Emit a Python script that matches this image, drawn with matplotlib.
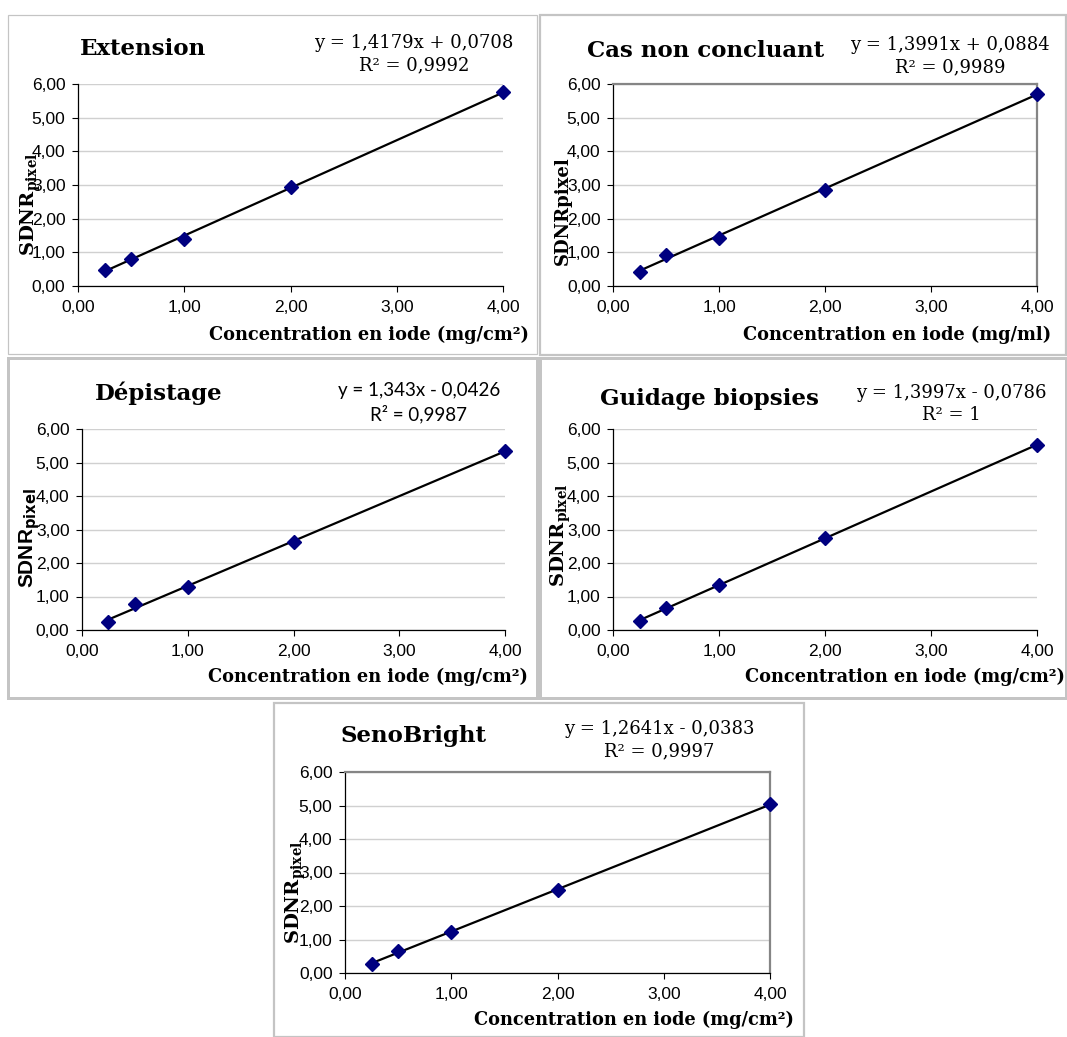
import numpy as np
import matplotlib
matplotlib.use("Agg")
from matplotlib import pyplot as plt
from matplotlib.patches import Rectangle

W, H = 1067, 1037

# concentrations (mg/cm2) and measured SDNR_pixel for each protocol
conc = [0.25, 0.5, 1.0, 2.0, 4.0]
sdnr_extension = [0.49, 0.80, 1.39, 2.95, 5.75]
sdnr_cas_non_concluant = [0.41, 0.92, 1.44, 2.86, 5.71]
sdnr_depistage = [0.23, 0.77, 1.29, 2.64, 5.34]
sdnr_guidage = [0.28, 0.66, 1.33, 2.74, 5.53]
sdnr_senobright = [0.28, 0.66, 1.21, 2.47, 5.04]

titles = ["Extension", "Cas non concluant", "Dépistage", "Guidage biopsies", "SenoBright"]
equations = ["y = 1,4179x + 0,0708\nR² = 0,9992",
             "y = 1,3991x + 0,0884\nR² = 0,9989",
             "y = 1,343x - 0,0426\nR² = 0,9987",
             "y = 1,3997x - 0,0786\nR² = 1",
             "y = 1,2641x - 0,0383\nR² = 0,9997"]
xlabels = ["Concentration en iode (mg/cm²)", "Concentration en iode (mg/ml)",
           "Concentration en iode (mg/cm²)", "Concentration en iode (mg/cm²)",
           "Concentration en iode (mg/cm²)"]
yticks = [0, 1, 2, 3, 4, 5, 6]
xticks = [0, 1, 2, 3, 4]

series = [sdnr_extension, sdnr_cas_non_concluant, sdnr_depistage, sdnr_guidage, sdnr_senobright]

# layout in pixels: axes (l, r, t, b), frame (l, t, r, b, lw), centres of title, equation, xlabel, ylabel
panels = [
    dict(ax=(78, 503, 84, 286), frame=(8, 15, 537, 354, 1.2), title=(143, 49), eq=(414, 54),
         xl=(369, 335), yl=(31, 204), box=False, sans=False, sub=True),
    dict(ax=(613, 1037, 84, 286), frame=(540, 15, 1066, 355, 2.2), title=(706, 51), eq=(950, 56),
         xl=(897, 335), yl=(563, 211), box=True, sans=False, sub=False),
    dict(ax=(82, 505, 429, 630), frame=(8, 358, 537, 698, 3), title=(159, 393), eq=(419, 403),
         xl=(368, 677), yl=(30, 538), box=False, sans=True, sub=True),
    dict(ax=(613, 1037, 429, 630), frame=(540, 358, 1066, 698, 3), title=(710, 399), eq=(951, 404),
         xl=(905, 677), yl=(561, 535), box=False, sans=False, sub=True),
    dict(ax=(345, 770, 772, 973), frame=(274, 703, 804, 1037, 2.2), title=(414, 736), eq=(659, 740),
         xl=(634, 1020), yl=(296, 892), box=True, sans=False, sub=True),
]

def fx(x):
    return x / W

def fy(y):
    return 1 - y / H

fig = plt.figure(figsize=(W / 100, H / 100), dpi=100)
fig.patch.set_facecolor("white")

serif = "DejaVu Serif"
for i, p in enumerate(panels):
    l, r, t, b = p["ax"]
    fl, ft, fr, fb, flw = p["frame"]
    fig.add_artist(Rectangle((fx(fl), fy(fb)), fx(fr - fl), (fb - ft) / H, transform=fig.transFigure,
                             fill=False, ec="#c4c4c4", lw=flw * 0.72))

    ax = fig.add_axes([fx(l), fy(b), fx(r - l), (b - t) / H])
    y = series[i]
    # linear trend line
    a, c = np.polyfit(conc, y, 1)
    xf = np.array([conc[0], conc[-1]])
    ax.plot(xf, a * xf + c, color="black", lw=1.6, zorder=3)
    ax.plot(conc, y, ls="none", marker="D", ms=7, color="#000080", mec="#000080", zorder=4, clip_on=False)

    ax.set_xlim(0, 4)
    ax.set_ylim(0, 6)
    ax.set_xticks(xticks)
    ax.set_yticks(yticks)
    ax.set_xticklabels([("%.2f" % v).replace(".", ",") for v in xticks])
    ax.set_yticklabels([("%.2f" % v).replace(".", ",") for v in yticks])
    for lab in ax.get_xticklabels() + ax.get_yticklabels():
        lab.set_family("Liberation Sans")
        lab.set_fontsize(12.5)
    ax.tick_params(axis="both", direction="out", length=4, width=0.8, color="black")
    ax.tick_params(axis="y", pad=5)
    ax.tick_params(axis="x", pad=6)
    ax.yaxis.grid(True, color="#d0d0d0", lw=1)
    ax.set_axisbelow(True)
    for s in ["left", "bottom"]:
        ax.spines[s].set_color("black")
        ax.spines[s].set_linewidth(0.9)
    if p["box"]:
        for s in ["top", "right"]:
            ax.spines[s].set_color("#858585")
            ax.spines[s].set_linewidth(1.6)
    else:
        ax.spines["top"].set_visible(False)
        ax.spines["right"].set_visible(False)

    fig.text(fx(p["title"][0]), fy(p["title"][1]), titles[i], family=serif, weight="bold",
             fontsize=16.5, ha="center", va="center")
    if p["sans"]:
        fig.text(fx(p["eq"][0]), fy(p["eq"][1]), equations[i], family="Lato", fontsize=13.5,
                 ha="center", va="center", linespacing=1.35, multialignment="center")
    else:
        fig.text(fx(p["eq"][0]), fy(p["eq"][1]), equations[i], family=serif, fontsize=13,
                 ha="center", va="center", linespacing=1.35, multialignment="center")
    fig.text(fx(p["xl"][0]), fy(p["xl"][1]), xlabels[i], family=serif, weight="bold",
             fontsize=12.8, ha="center", va="center")
    if p["sans"]:
        fig.text(fx(p["yl"][0]), fy(p["yl"][1]), r"SDNR$_{\mathbf{pixel}}$", family="Liberation Sans",
                 weight="bold", fontsize=15, rotation=90, ha="center", va="center",
                 math_fontfamily="dejavusans")
    elif p["sub"]:
        fig.text(fx(p["yl"][0]), fy(p["yl"][1]), r"SDNR$_{\mathbf{pixel}}$", family=serif,
                 weight="bold", fontsize=14, rotation=90, ha="center", va="center",
                 math_fontfamily="dejavuserif")
    else:
        fig.text(fx(p["yl"][0]), fy(p["yl"][1]), "SDNRpixel", family=serif,
                 weight="bold", fontsize=13, rotation=90, ha="center", va="center")

fig.savefig("out.png", dpi=100, facecolor="white")
